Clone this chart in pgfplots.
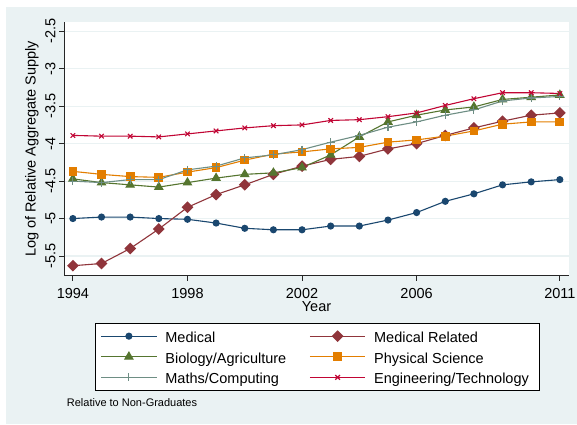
\documentclass[border=0pt]{standalone}
\usepackage{pgfplots}
\usepackage{pgfplotstable}
\pgfplotsset{compat=1.18}
\usepackage{fontspec}
\setmainfont{Liberation Sans}
\definecolor{bgc}{HTML}{EAF2F3}
\definecolor{gridc}{HTML}{EAF2F3}
\definecolor{cnavy}{HTML}{1A476F}
\definecolor{cmaroon}{HTML}{90353B}
\definecolor{cgreen}{HTML}{55752F}
\definecolor{corange}{HTML}{E37E00}
\definecolor{cteal}{HTML}{6E8E84}
\definecolor{ccran}{HTML}{C10534}
\pgfplotstableread{
year med medrel bio phys maths eng
1994 -5.00 -5.63 -4.47 -4.37 -4.50 -3.89
1995 -4.98 -5.60 -4.52 -4.41 -4.52 -3.90
1996 -4.98 -5.40 -4.55 -4.44 -4.48 -3.90
1997 -5.00 -5.14 -4.58 -4.45 -4.48 -3.91
1998 -5.01 -4.85 -4.52 -4.38 -4.35 -3.87
1999 -5.06 -4.68 -4.46 -4.32 -4.30 -3.83
2000 -5.13 -4.55 -4.41 -4.22 -4.19 -3.79
2001 -5.15 -4.41 -4.39 -4.14 -4.15 -3.76
2002 -5.15 -4.30 -4.32 -4.11 -4.08 -3.75
2003 -5.10 -4.21 -4.15 -4.07 -3.98 -3.69
2004 -5.10 -4.17 -3.91 -4.05 -3.89 -3.68
2005 -5.02 -4.07 -3.71 -3.98 -3.78 -3.64
2006 -4.92 -4.00 -3.62 -3.95 -3.71 -3.59
2007 -4.77 -3.89 -3.55 -3.90 -3.62 -3.49
2008 -4.67 -3.79 -3.51 -3.83 -3.55 -3.40
2009 -4.55 -3.70 -3.41 -3.74 -3.43 -3.32
2010 -4.51 -3.62 -3.38 -3.71 -3.39 -3.32
2011 -4.48 -3.59 -3.35 -3.71 -3.37 -3.33
}\datatable
\newcommand{\wa}[1]{\makebox[130pt][l]{#1}}
\newcommand{\wb}[1]{\makebox[160pt][l]{#1}}
\begin{document}
\begin{tikzpicture}[x=1pt,y=1pt]
\useasboundingbox (0,0) rectangle (577,424);
\fill[bgc] (6,0) rectangle (577,417);
\begin{axis}[
  at={(64pt,148.3pt)}, anchor=south west,
  scale only axis, width=505pt, height=253.7pt,
  xmin=1993.69, xmax=2011.32, ymin=-5.763, ymax=-2.376,
  axis background/.style={fill=white},
  axis lines*=left,
  axis line style={black!85, line width=0.8pt, -},
  tick align=outside, major tick length=5pt,
  tick style={black!85, line width=0.8pt},
  xtick={1994,1998,2002,2006,2011},
  xticklabels={1994,1998,2002,2006,2011},
  xticklabel shift=4pt,
  ytick={-5.5,-5,-4.5,-4,-3.5,-3,-2.5},
  yticklabels={-5.5,-5,-4.5,-4,-3.5,-3,-2.5},
  yticklabel style={rotate=90, anchor=south},
  ticklabel style={font=\fontsize{14.5}{17}\selectfont},
  ymajorgrids, grid style={gridc, line width=1.2pt},
  xlabel={Year},
  xlabel style={at={(axis description cs:0.5,-0.1222)}, anchor=center, font=\fontsize{14.5}{17}\selectfont},
  ylabel={Log of Relative Aggregate Supply},
  ylabel style={at={(axis description cs:-0.0634,0.5)}, anchor=center, font=\fontsize{14.5}{17}\selectfont},
  legend columns=2,
  legend image code/.code={\draw[mark repeat=2,mark phase=2,#1] plot coordinates {(0pt,0pt) (27.65pt,0pt) (55.3pt,0pt)};},
  legend style={at={(axis description cs:0.0608,-0.1853)}, anchor=north west,
    draw=black, line width=0.8pt, fill=white,
    font=\fontsize{14.5}{17}\selectfont,
    inner xsep=5.6pt, inner ysep=3.8pt,
    nodes={inner xsep=0pt, inner ysep=0pt, text height=15.5pt, text depth=3pt},
    row sep=2.1pt,
    /tikz/every odd column/.append style={column sep=8.3pt},
    /tikz/every even column/.append style={column sep=14pt}},
  every axis plot/.append style={line width=1.1pt},
]
\addplot[cnavy, mark=*, mark size=3pt, mark options={fill=cnavy}] table[x=year,y=med]{\datatable};
\addplot[cmaroon, mark=square*, mark size=3.6pt, mark options={rotate=45, fill=cmaroon}] table[x=year,y=medrel]{\datatable};
\addplot[cgreen, mark=triangle*, mark size=4.6pt, mark options={fill=cgreen}] table[x=year,y=bio]{\datatable};
\addplot[corange, mark=square*, mark size=3.8pt, mark options={fill=corange}] table[x=year,y=phys]{\datatable};
\addplot[cteal, mark=+, mark size=4pt] table[x=year,y=maths]{\datatable};
\addplot[ccran, mark=x, mark size=3.2pt] table[x=year,y=eng]{\datatable};
\legend{\wa{Medical},\wb{Medical Related},\wa{Biology/Agriculture},\wb{Physical Science},\wa{Maths/Computing},\wb{Engineering/Technology}}
\end{axis}
\node[anchor=west, inner sep=0pt, font=\fontsize{11}{13}\selectfont] at (66.7,21) {Relative to Non-Graduates};
\end{tikzpicture}
\end{document}
